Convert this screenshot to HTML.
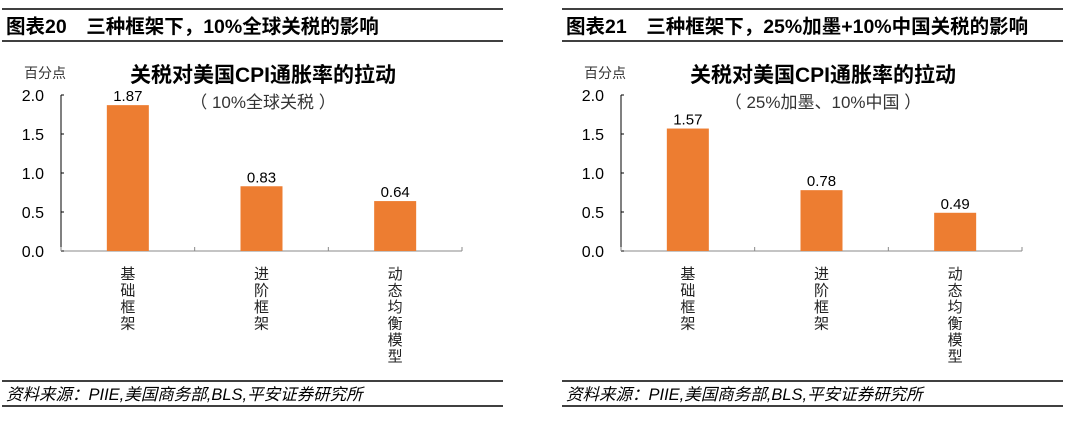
<!DOCTYPE html><html><head><meta charset="utf-8"><style>
body{margin:0;width:1080px;height:416px;background:#fff;overflow:hidden;font-family:"Liberation Sans","Noto Sans CJK SC",sans-serif}
svg text{font-family:"Liberation Sans","Noto Sans CJK SC",sans-serif}
</style></head><body>
<svg id="s" width="1080" height="416"></svg>
<script>
const cats=["基础框架","进阶框架","动态均衡模型"];
const vals1=[1.87,0.83,0.64];
const vals2=[1.57,0.78,0.49];
const ticks=["0.0","0.5","1.0","1.5","2.0"];
const titles=["图表20　三种框架下，10%全球关税的影响","图表21　三种框架下，25%加墨+10%中国关税的影响"];
const subs=["（ 10%全球关税 ）","（ 25%加墨、10%中国 ）"];
const svg=document.getElementById('s');const NS="http://www.w3.org/2000/svg";
function el(t,a,p){const e=document.createElementNS(NS,t);for(const k in a)e.setAttribute(k,a[k]);(p||svg).appendChild(e);return e}
function panel(ox,vals,title,sub,idx){
 const g=el('g',{transform:`translate(${ox},0)`});
 
 
 el('line',{x1:2,x2:503,y1:9,y2:9,stroke:'#000','stroke-width':1.5},g);
 el('line',{x1:2,x2:503,y1:41,y2:41,stroke:'#000','stroke-width':1.5},g);
 let t=el('text',{x:6,y:33,'font-size':19.5,'font-weight':'bold'},g);t.textContent=title;
 
 el('line',{x1:2,x2:503,y1:381,y2:381,stroke:'#000','stroke-width':1.5},g);
 el('line',{x1:2,x2:503,y1:406,y2:406,stroke:'#000','stroke-width':1.5},g);
 t=el('text',{x:6,y:400,'font-size':16.5,'font-style':'italic'},g);t.textContent="资料来源：PIIE,美国商务部,BLS,平安证券研究所";
 
 t=el('text',{x:24,y:78,'font-size':14,fill:'#333'},g);t.textContent="百分点";
 
 t=el('text',{x:263,y:82,'font-size':21,'font-weight':'bold','text-anchor':'middle'},g);t.textContent="关税对美国CPI通胀率的拉动";
 
 t=el('text',{x:263,y:108,'font-size':17,'text-anchor':'middle',fill:'#333'},g);t.textContent=sub;
 
 const X0=61,X1=462,Y0=251,ppu=78;const y=v=>Y0-v*ppu;const step=(X1-X0)/cats.length;
 el('line',{x1:X0,x2:X0,y1:y(2),y2:Y0,stroke:'#000'},g);
 el('line',{x1:X0,x2:X1,y1:Y0,y2:Y0,stroke:'#888'},g);
 ticks.forEach(s=>{const v=parseFloat(s);
  el('line',{x1:X0,x2:X0+3,y1:y(v),y2:y(v),stroke:'#000'},g);
  const tt=el('text',{x:X0-17,y:y(v)+6,'font-size':16,'text-anchor':'end'},g);tt.textContent=s;
  });
 for(let i=0;i<=cats.length;i++)el('line',{x1:X0+i*step,x2:X0+i*step,y1:Y0,y2:Y0-4,stroke:'#888'},g);
 cats.forEach((c,i)=>{const cx=X0+step*(i+0.5);const v=vals[i];
  const r=el('rect',{x:cx-21,y:y(v),width:42,height:Y0-y(v),fill:'#ED7D31'},g);
  
  const l=el('text',{x:cx,y:y(v)-4,'font-size':15,'text-anchor':'middle'},g);l.textContent=v.toFixed(2);
  
  [...c].forEach((ch,j)=>{const k=el('text',{x:cx,y:279+j*16.5,'font-size':15,'text-anchor':'middle',fill:'#222'},g);k.textContent=ch;
   });
 });
}
panel(0,vals1,titles[0],subs[0],1);
panel(560,vals2,titles[1],subs[1],2);
</script></body></html>
